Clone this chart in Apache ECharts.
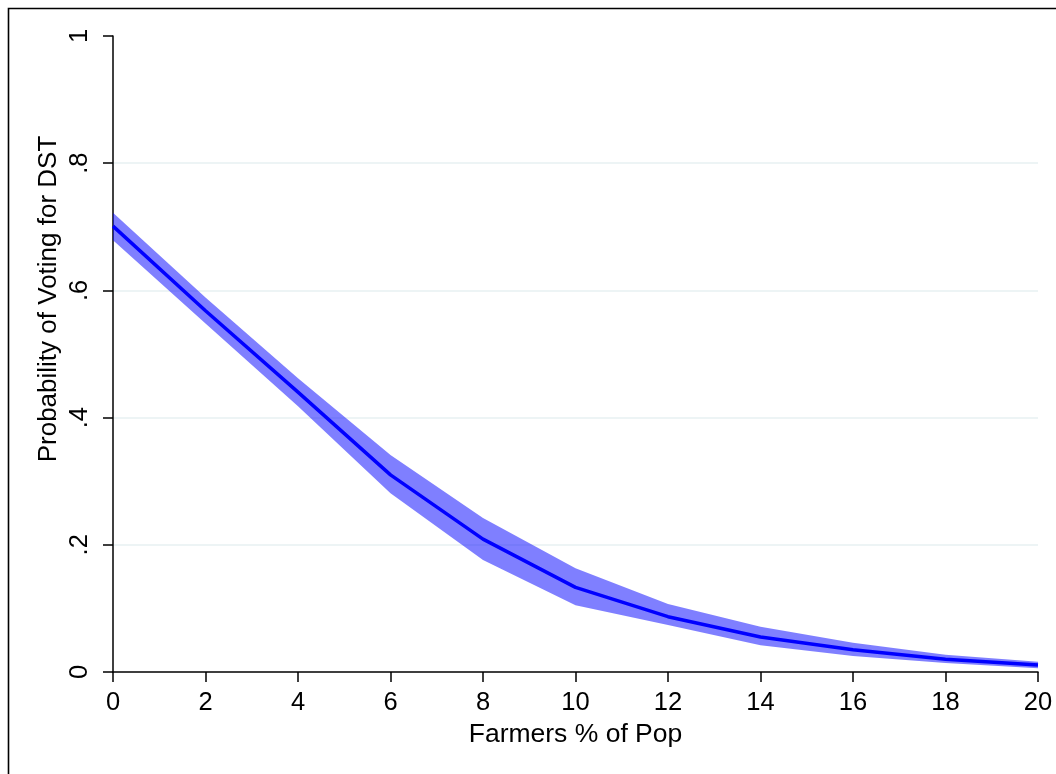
<!DOCTYPE html>
<html>
<head>
<meta charset="utf-8">
<script src="https://cdn.jsdelivr.net/npm/echarts@6/dist/echarts.min.js"></script>
<style>
  html, body { margin: 0; padding: 0; background: #fff; }
  #chart { width: 1056px; height: 774px; }
</style>
</head>
<body>
<div id="chart"></div>
<script>
// Farmers % of Pop
const farmersPct = [0, 2, 4, 6, 8, 10, 12, 14, 16, 18, 20];
// Predicted probability of voting for DST
const probability = [0.701, 0.568, 0.440, 0.310, 0.209, 0.133, 0.087, 0.055, 0.035, 0.020, 0.011];
// Confidence interval bounds
const ciLower = [0.679, 0.548, 0.418, 0.281, 0.176, 0.105, 0.074, 0.042, 0.025, 0.014, 0.006];
const ciUpper = [0.722, 0.589, 0.462, 0.341, 0.242, 0.163, 0.107, 0.071, 0.046, 0.027, 0.016];
const yTickLabels = { 0: '0', 0.2: '.2', 0.4: '.4', 0.6: '.6', 0.8: '.8', 1: '1' };
const yTitle = 'Probability of Voting for DST';
const xTitle = 'Farmers % of Pop';

const bandWidth = ciUpper.map((u, i) => +(u - ciLower[i]).toFixed(4));

const font = 'Liberation Sans, Arial, Helvetica, sans-serif';
const chart = echarts.init(document.getElementById('chart'), null, { renderer: 'canvas' });
chart.setOption({
  animation: false,
  backgroundColor: '#ffffff',
  graphic: [
    {
      type: 'rect',
      shape: { x: 8.5, y: 8.5, width: 1200, height: 1000 },
      style: { fill: 'none', stroke: '#000', lineWidth: 1.6 },
      silent: true
    },
    {
      type: 'text',
      x: 49, y: 299, rotation: Math.PI / 2,
      style: {
        text: yTitle, fontFamily: font, fontSize: 26, fill: '#000',
        align: 'center', verticalAlign: 'middle'
      },
      silent: true
    }
  ],
  grid: { left: 113, right: 18, top: 36, bottom: 102 },
  xAxis: {
    type: 'category', data: farmersPct, boundaryGap: false,
    name: xTitle, nameLocation: 'middle', nameGap: 46,
    nameTextStyle: { fontFamily: font, fontSize: 26.5, color: '#000' },
    axisLine: { show: true, onZero: false, lineStyle: { color: '#000', width: 1.5 } },
    axisTick: { show: true, length: 10, lineStyle: { color: '#000', width: 1.5 } },
    axisLabel: { fontFamily: font, fontSize: 25.5, color: '#000', margin: 18, interval: 0 },
    splitLine: { show: false }
  },
  yAxis: {
    type: 'value', min: 0, max: 1, interval: 0.2,
    axisLine: { show: true, onZero: false, lineStyle: { color: '#000', width: 1.5 } },
    axisTick: { show: true, length: 10, lineStyle: { color: '#000', width: 1.5 } },
    axisLabel: {
      fontFamily: font, fontSize: 25.5, color: '#000', rotate: 90, margin: 20,
      formatter: v => yTickLabels[Math.round(v * 10) / 10] ?? String(v)
    },
    splitLine: {
      show: true, showMinLine: false, showMaxLine: false,
      lineStyle: { color: '#e7f0f2', width: 1.5 }
    }
  },
  series: [
    {
      name: 'lower', type: 'line', data: ciLower, stack: 'ci',
      symbol: 'none', lineStyle: { opacity: 0 }, areaStyle: { opacity: 0 },
      silent: true, z: 1
    },
    {
      name: 'band', type: 'line', data: bandWidth, stack: 'ci',
      symbol: 'none', lineStyle: { opacity: 0 },
      areaStyle: { color: 'rgba(0,0,255,0.5)', opacity: 1 },
      silent: true, z: 2
    },
    {
      name: 'prob', type: 'line', data: probability,
      symbol: 'none', lineStyle: { color: '#0000ff', width: 3.5 },
      z: 3
    }
  ]
});
</script>
</body>
</html>
